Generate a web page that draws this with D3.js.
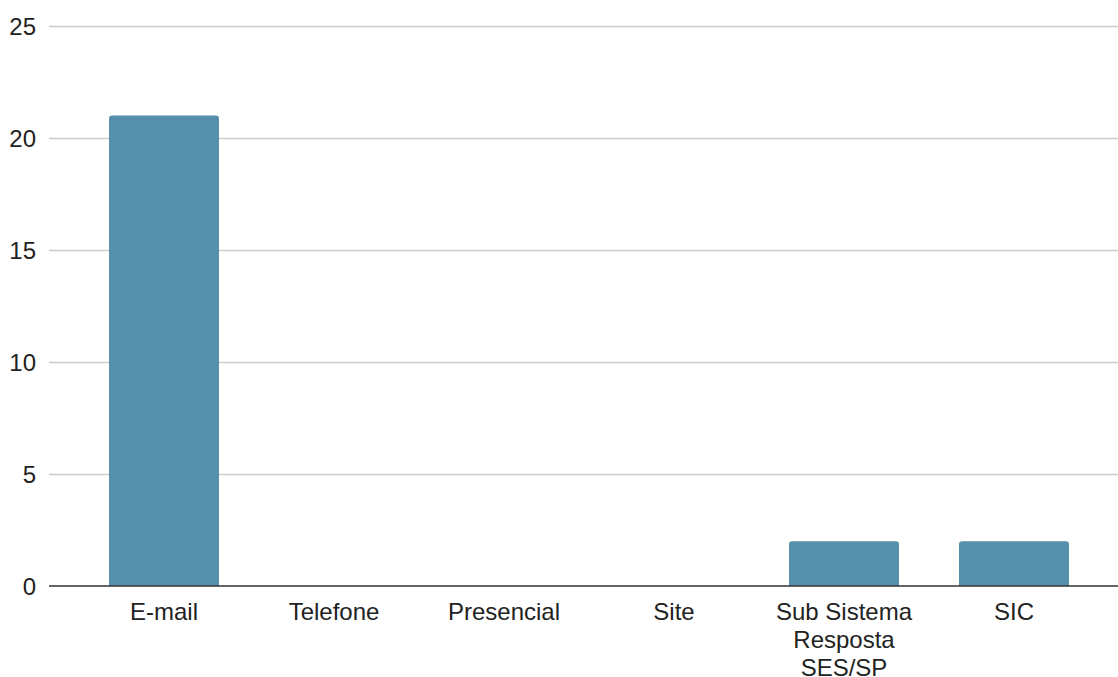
<!DOCTYPE html>
<html><head><meta charset="utf-8">
<script src="https://cdn.jsdelivr.net/npm/d3@7/dist/d3.min.js"></script>
<style>body{margin:0;background:#fff}svg{display:block}</style>
</head><body>
<svg id="c" width="1118" height="677"></svg>
<script>
const categories = ["E-mail", "Telefone", "Presencial", "Site", "Sub Sistema Resposta SES/SP", "SIC"];
const labelLines = [["E-mail"], ["Telefone"], ["Presencial"], ["Site"], ["Sub Sistema", "Resposta", "SES/SP"], ["SIC"]];
const values = [21, 0, 0, 0, 2, 2];
const yTicks = [0, 5, 10, 15, 20, 25];

const svg = d3.select("#c");
const font = "'Liberation Sans', Arial, sans-serif";
const fs = 24;
const y = d3.scaleLinear().domain([0, 25]).range([586, 26]);
const x = d3.scaleBand().domain(categories).range([79, 1099]).paddingInner(60/170).paddingOuter(30/170);

// gridlines
svg.append("g").selectAll("line").data(yTicks.filter(d => d > 0)).join("line")
  .attr("x1", 49).attr("x2", 1118)
  .attr("y1", d => Math.round(y(d)) + 0.5).attr("y2", d => Math.round(y(d)) + 0.5)
  .attr("stroke", "#cccccc").attr("stroke-width", 1.3);

// y labels
svg.append("g").selectAll("text").data(yTicks).join("text")
  .attr("x", 36).attr("y", d => y(d)).attr("dy", "0.36em")
  .attr("text-anchor", "end").attr("font-family", font).attr("font-size", fs)
  .attr("fill", "#222").text(d => d);

// bars with rounded top corners
const r = 3;
svg.append("g").selectAll("path").data(values.map((v, i) => ({c: categories[i], v})).filter(d => d.v > 0)).join("path")
  .attr("fill", "#5790ab")
  .attr("d", d => {
    const x0 = x(d.c), w = x.bandwidth(), y0 = y(d.v), y1 = y(0);
    return `M${x0},${y1}V${y0 + r}Q${x0},${y0} ${x0 + r},${y0}H${x0 + w - r}Q${x0 + w},${y0} ${x0 + w},${y0 + r}V${y1}Z`;
  });

// baseline
svg.append("line").attr("x1", 49).attr("x2", 1118).attr("y1", 586).attr("y2", 586)
  .attr("stroke", "#333").attr("stroke-width", 1.5);

// x labels
const xl = svg.append("g").selectAll("text").data(categories).join("text")
  .attr("text-anchor", "middle").attr("font-family", font).attr("font-size", fs).attr("fill", "#222")
  .attr("x", d => x(d) + x.bandwidth() / 2).attr("y", 620);
xl.each(function(d, i) {
  const t = d3.select(this);
  labelLines[i].forEach((line, k) => {
    t.append("tspan").attr("x", x(d) + x.bandwidth() / 2).attr("dy", k === 0 ? 0 : 28).text(line);
  });
});
</script>
</body></html>
